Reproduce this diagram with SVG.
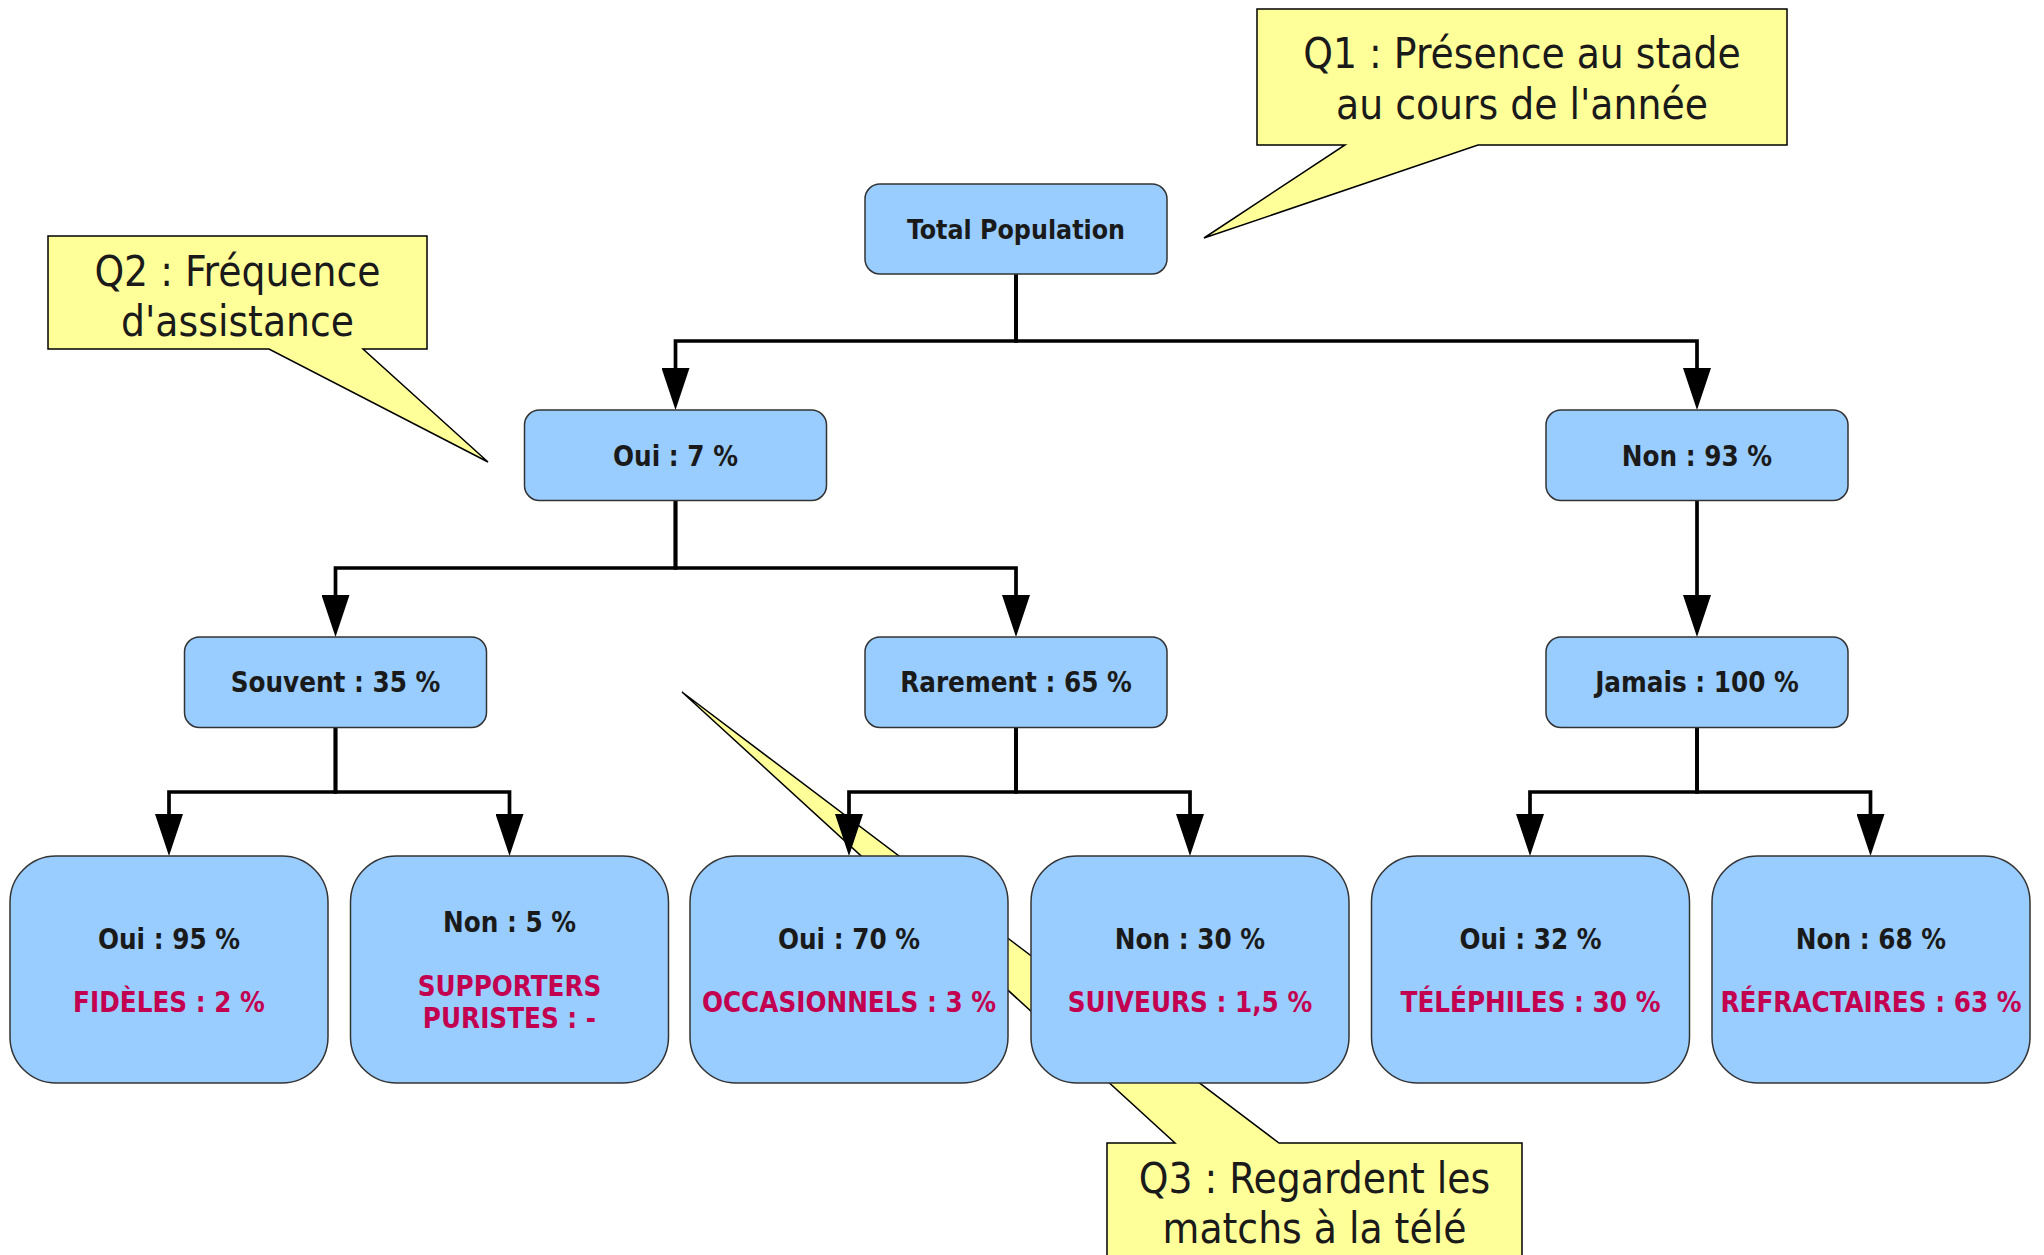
<svg xmlns="http://www.w3.org/2000/svg" width="2044" height="1255" viewBox="0 0 2044 1255">
<style>
.box{fill:#99ccff;stroke:#333333;stroke-width:1.5}
.call{fill:#ffff99;stroke:#000000;stroke-width:1.5;stroke-linejoin:miter}
.lbl{font-family:"DejaVu Sans Condensed","DejaVu Sans",sans-serif;font-stretch:condensed;font-weight:bold;font-size:27.5px;fill:#1a1a1a;text-anchor:middle}
.red{fill:#c3004f}
.ct{font-family:"DejaVu Sans Condensed","DejaVu Sans",sans-serif;font-stretch:condensed;font-size:42px;fill:#1a1a1a;text-anchor:middle}
.edge{fill:none;stroke:#000000;stroke-width:3.7;marker-end:url(#ah)}
</style>
<defs>
<marker id="ah" markerUnits="userSpaceOnUse" markerWidth="42" markerHeight="28" viewBox="0 0 42 28" refX="0" refY="14" orient="auto">
<path d="M0,0 L42,14 L0,28 Z" fill="#000000"/>
</marker>
</defs>
<rect width="2044" height="1255" fill="#ffffff"/>

<g id="callout-q3">
<path class="call" d="M1107,1143 H1175 L682,692 L1279,1143 H1522 V1260 H1107 Z"/>
<text class="ct" x="1314.5" y="1193">Q3 : Regardent les</text>
<text class="ct" x="1314.5" y="1243">matchs à la télé</text>
</g>

<g id="callout-q1">
<path class="call" d="M1257,9 H1787 V145 H1478 L1204,238 L1345,145 H1257 Z"/>
<text class="ct" x="1522" y="68">Q1 : Présence au stade</text>
<text class="ct" x="1522" y="119">au cours de l'année</text>
</g>

<g id="callout-q2">
<path class="call" d="M48,236 H427 V349 H363 L488,462 L269,349 H48 Z"/>
<text class="ct" x="237.5" y="286">Q2 : Fréquence</text>
<text class="ct" x="237.5" y="336">d'assistance</text>
</g>

<g id="connectors">
<path class="edge" d="M1016,274 V341 H675.5 V368"/>
<path class="edge" d="M1016,274 V341 H1697 V368"/>
<path class="edge" d="M675.5,500 V568 H335.5 V595"/>
<path class="edge" d="M675.5,500 V568 H1016 V595"/>
<path class="edge" d="M1697,500 V595"/>
<path class="edge" d="M335.5,727 V792 H169 V814"/>
<path class="edge" d="M335.5,727 V792 H509.5 V814"/>
<path class="edge" d="M1016,727 V792 H849 V814"/>
<path class="edge" d="M1016,727 V792 H1190 V814"/>
<path class="edge" d="M1697,727 V792 H1530 V814"/>
<path class="edge" d="M1697,727 V792 H1870.5 V814"/>
</g>

<g id="n-total">
<rect class="box" x="865" y="184" width="302" height="90" rx="15"/>
<text class="lbl" x="1016" y="238.5" style="font-size:26.5px">Total Population</text>
</g>
<g id="n-oui7">
<rect class="box" x="524.5" y="410" width="302" height="90.5" rx="15"/>
<text class="lbl" x="675.5" y="465.5">Oui : 7 %</text>
</g>
<g id="n-non93">
<rect class="box" x="1546" y="410" width="302" height="90.5" rx="15"/>
<text class="lbl" x="1697" y="465.5">Non : 93 %</text>
</g>
<g id="n-souvent">
<rect class="box" x="184.5" y="637" width="302" height="90.5" rx="15"/>
<text class="lbl" x="335.5" y="692">Souvent : 35 %</text>
</g>
<g id="n-rarement">
<rect class="box" x="865" y="637" width="302" height="90.5" rx="15"/>
<text class="lbl" x="1016" y="692">Rarement : 65 %</text>
</g>
<g id="n-jamais">
<rect class="box" x="1546" y="637" width="302" height="90.5" rx="15"/>
<text class="lbl" x="1697" y="692">Jamais : 100 %</text>
</g>

<g id="n-fideles">
<rect class="box" x="10" y="856" width="318" height="227" rx="46"/>
<text class="lbl" x="169" y="948.5">Oui : 95 %</text>
<text class="lbl red" x="169" y="1011.5">FIDÈLES : 2 %</text>
</g>
<g id="n-puristes">
<rect class="box" x="350.5" y="856" width="318" height="227" rx="46"/>
<text class="lbl" x="509.5" y="932">Non : 5 %</text>
<text class="lbl red" x="509.5" y="996">SUPPORTERS</text>
<text class="lbl red" x="509.5" y="1028">PURISTES : -</text>
</g>
<g id="n-occasionnels">
<rect class="box" x="690" y="856" width="318" height="227" rx="46"/>
<text class="lbl" x="849" y="948.5">Oui : 70 %</text>
<text class="lbl red" x="849" y="1011.5">OCCASIONNELS : 3 %</text>
</g>
<g id="n-suiveurs">
<rect class="box" x="1031" y="856" width="318" height="227" rx="46"/>
<text class="lbl" x="1190" y="948.5">Non : 30 %</text>
<text class="lbl red" x="1190" y="1011.5">SUIVEURS : 1,5 %</text>
</g>
<g id="n-telephiles">
<rect class="box" x="1371.5" y="856" width="318" height="227" rx="46"/>
<text class="lbl" x="1530.5" y="948.5">Oui : 32 %</text>
<text class="lbl red" x="1530.5" y="1011.5">TÉLÉPHILES : 30 %</text>
</g>
<g id="n-refractaires">
<rect class="box" x="1712" y="856" width="318" height="227" rx="46"/>
<text class="lbl" x="1871" y="948.5">Non : 68 %</text>
<text class="lbl red" x="1871" y="1011.5">RÉFRACTAIRES : 63 %</text>
</g>
</svg>
